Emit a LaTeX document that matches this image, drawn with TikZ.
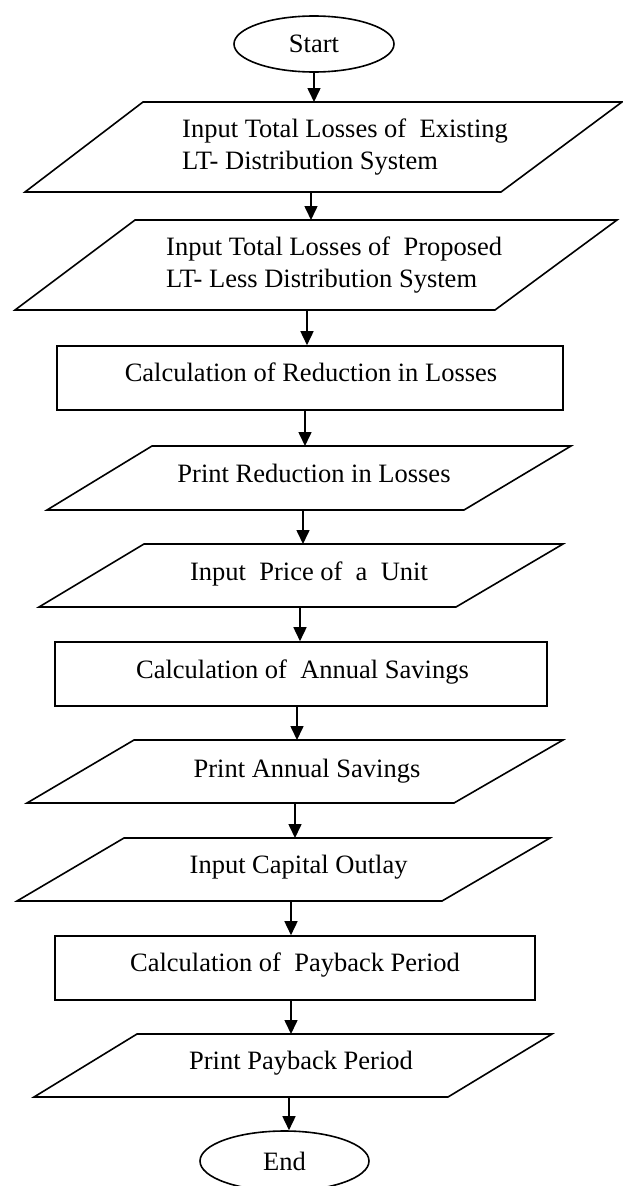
\documentclass[tikz,border=0pt]{standalone}
\usepackage{fontspec}
\setmainfont{Liberation Serif}
\usetikzlibrary{arrows.meta,shapes.geometric,fit}
\newcommand\pgram[7]{% name, top-left x, top-right x, bottom-left x, bottom-right x, top y, bottom y
  \draw[shp] (#2,#6) -- (#3,#6) -- (#5,#7) -- (#4,#7) -- cycle;
  \node[hold,fit={(#4,#6) (#3,#7)}] (#1) {};
}
\begin{document}
\begin{tikzpicture}[x=1pt,y=-1pt,
  shp/.style={draw=black,line width=1.6pt,line join=miter},
  lbl/.style={font=\fontsize{26.5}{31.7}\selectfont,inner sep=0pt},
  arr/.style={line width=1.6pt,-{Triangle[length=14pt,width=13pt]}},
  term/.style={shp,ellipse,inner sep=0pt,font=\fontsize{26.5}{31.7}\selectfont},
  proc/.style={shp,rectangle,inner sep=0pt},
  hold/.style={inner sep=0pt,outer sep=0pt}
]
\useasboundingbox (0,0) rectangle (623,1186);

% terminals
\node[term,minimum width=160pt,minimum height=56pt] (start) at (314,44) {Start};
\node[term,minimum width=169pt,minimum height=60pt] (stop) at (284.5,1161) {End};

% parallelograms (input / output)
\pgram{p1}{143}{622}{25}{501}{102}{192}
\pgram{p2}{135}{617}{15}{495}{220}{310}
\pgram{p3}{152}{571}{47}{464}{446}{510}
\pgram{p4}{144}{563}{39}{456}{544}{607}
\pgram{p5}{134}{563}{27}{454}{740}{803}
\pgram{p6}{124}{550}{17}{442}{838}{901}
\pgram{p7}{137}{552}{34}{448}{1034}{1097}

% process boxes
\node[proc,minimum width=506pt,minimum height=64pt] (r1) at (310,378) {};
\node[proc,minimum width=492pt,minimum height=64pt] (r2) at (301,674) {};
\node[proc,minimum width=480pt,minimum height=64pt] (r3) at (295,968) {};

% texts
\node[lbl,anchor=west,align=left] (t1) at (182,146.7) {Input Total Losses of~ Existing\\LT- Distribution System};
\node[lbl,anchor=west,align=left] (t2) at (166,264.7) {Input Total Losses of~ Proposed\\LT- Less Distribution System};
\node[lbl,anchor=base] (t3) at (311,381) {Calculation of Reduction in Losses};
\node[lbl,anchor=base] (t4) at (314,482.7) {Print Reduction in Losses};
\node[lbl,anchor=base] (t5) at (309,580) {Input~ Price of~ a~ Unit};
\node[lbl,anchor=base] (t6) at (302.5,678) {Calculation of~ Annual Savings};
\node[lbl,anchor=base] (t7) at (307,777) {Print Annual Savings};
\node[lbl,anchor=base] (t8) at (298.6,873) {Input Capital Outlay};
\node[lbl,anchor=base] (t9) at (295,971) {Calculation of~ Payback Period};
\node[lbl,anchor=base] (t10) at (301,1069) {Print Payback Period};

% connector columns
\coordinate (x1) at (314,0);
\coordinate (x2) at (311,0);
\coordinate (x3) at (307,0);
\coordinate (x4) at (305,0);
\coordinate (x5) at (303,0);
\coordinate (x6) at (300,0);
\coordinate (x7) at (297,0);
\coordinate (x8) at (295,0);
\coordinate (x9) at (291,0);
\coordinate (x10) at (291,0);
\coordinate (x11) at (289,0);

\draw[arr] (start.south -| x1) -- (p1.north -| x1);
\draw[arr] (p1.south -| x2) -- (p2.north -| x2);
\draw[arr] (p2.south -| x3) -- (r1.north -| x3);
\draw[arr] (r1.south -| x4) -- (p3.north -| x4);
\draw[arr] (p3.south -| x5) -- (p4.north -| x5);
\draw[arr] (p4.south -| x6) -- (r2.north -| x6);
\draw[arr] (r2.south -| x7) -- (p5.north -| x7);
\draw[arr] (p5.south -| x8) -- (p6.north -| x8);
\draw[arr] (p6.south -| x9) -- (r3.north -| x9);
\draw[arr] (r3.south -| x10) -- (p7.north -| x10);
\draw[arr] (p7.south -| x11) -- (stop.north -| x11);
\end{tikzpicture}
\end{document}
